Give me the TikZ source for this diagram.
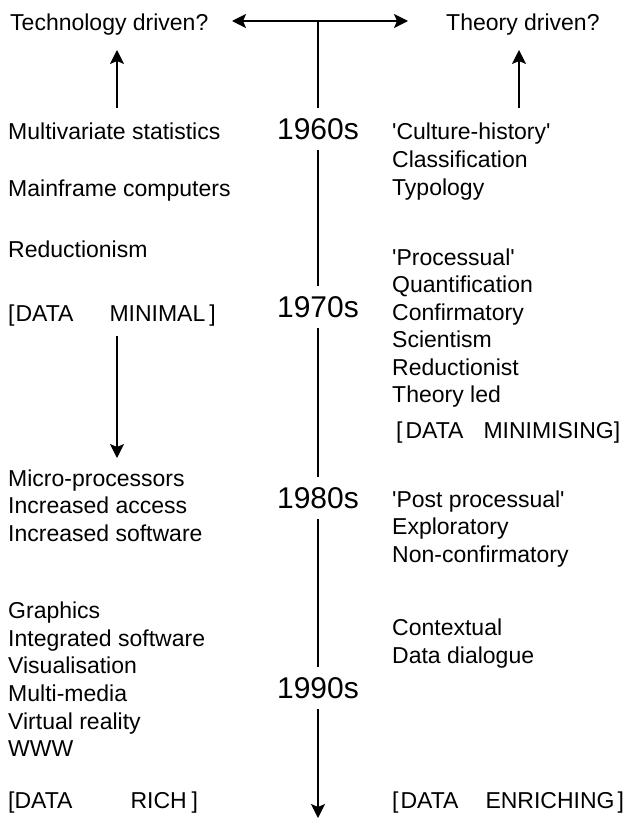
\documentclass[tikz,border=0pt]{standalone}
\usepackage{fontspec}
\setmainfont{Liberation Sans}
\usetikzlibrary{arrows.meta}
\begin{document}
\begin{tikzpicture}[x=1pt,y=-1pt,
  lbl/.style={anchor=west, inner sep=0pt, text height=16.5pt, text depth=0pt, font=\fontsize{23}{27}\selectfont},
  yr/.style={inner xsep=0pt, inner ysep=10pt, text height=21.5pt, text depth=0pt, font=\fontsize{30}{30}\selectfont},
  ln/.style={line width=1.5pt},
  tip/.tip={Stealth[length=14pt,width=14pt,inset=3pt]},
  arr/.style={line width=1.5pt, -tip},
  darr/.style={line width=1.5pt, tip-tip}
]
\useasboundingbox (0,0) rectangle (631,826);

% top
\node[lbl] (tech) at (10,22) {Technology driven?};
\node[lbl] (theo) at (446,22) {Theory driven?};
\coordinate (al) at (232,21);
\coordinate (ar) at (408,21);
\coordinate (top) at (318,21);
\draw[darr] (al) -- (ar);

% years
\node[yr] (y60) at (318,129) {1960s};
\node[yr] (y70) at (318,307) {1970s};
\node[yr] (y80) at (318,498) {1980s};
\node[yr] (y90) at (318,688) {1990s};
\coordinate (bot) at (318,818);
\draw[ln] (top) -- (y60.north);
\draw[ln] (y60.south) -- (y70.north);
\draw[ln] (y70.south) -- (y80.north);
\draw[ln] (y80.south) -- (y90.north);
\draw[arr] (y90.south) -- (bot);

% up arrows
\coordinate (lu1) at (117,108);
\coordinate (lu2) at (117,50);
\coordinate (ru1) at (519,108);
\coordinate (ru2) at (519,50);
\draw[arr] (lu1) -- (lu2);
\draw[arr] (ru1) -- (ru2);

% left column
\node[lbl] (l1) at (8,131) {Multivariate statistics};
\node[lbl] (l2) at (8,188) {Mainframe computers};
\node[lbl] (l3) at (8,249) {Reductionism};
\node[lbl] (l4) at (8,313) {[\hspace{1pt}DATA\hspace{36pt}MINIMAL\hspace{4pt}]};
\coordinate (ld1) at (117,336);
\coordinate (ld2) at (117,458);
\draw[arr] (ld1) -- (ld2);
\node[lbl] (l5) at (8,478) {Micro-processors};
\node[lbl] (l6) at (8,505) {Increased access};
\node[lbl] (l7) at (8,533) {Increased software};
\node[lbl] (l8) at (8,610) {Graphics};
\node[lbl] (l9) at (8,638) {Integrated software};
\node[lbl] (l10) at (8,665) {Visualisation};
\node[lbl] (l11) at (8,693) {Multi-media};
\node[lbl] (l12) at (8,721) {Virtual reality};
\node[lbl] (l13) at (8,748) {WWW};
\node[lbl] (l14) at (8,800) {[DATA\hspace{58pt}RICH\hspace{5pt}]};

% right column
\node[lbl] (r1) at (392,131) {\textquotesingle Culture-history\textquotesingle};
\node[lbl] (r2) at (392,159) {Classification};
\node[lbl] (r3) at (392,187) {Typology};
\node[lbl] (r4) at (392,257) {\textquotesingle Processual\textquotesingle};
\node[lbl] (r5) at (392,284) {Quantification};
\node[lbl] (r6) at (392,312) {Confirmatory};
\node[lbl] (r7) at (392,339) {Scientism};
\node[lbl] (r8) at (392,367) {Reductionist};
\node[lbl] (r9) at (392,394) {Theory led};
\node[lbl] (r10) at (396,430) {[\hspace{3pt}DATA\hspace{20pt}MINIMISING]};
\node[lbl] (r11) at (392,499) {\textquotesingle Post processual\textquotesingle};
\node[lbl] (r12) at (392,526) {Exploratory};
\node[lbl] (r13) at (392,554) {Non-confirmatory};
\node[lbl] (r14) at (392,627) {Contextual};
\node[lbl] (r15) at (392,655) {Data dialogue};
\node[lbl] (r16) at (392,800) {[\hspace{2pt}DATA\hspace{27pt}ENRICHING\hspace{3pt}]};
\end{tikzpicture}
\end{document}
